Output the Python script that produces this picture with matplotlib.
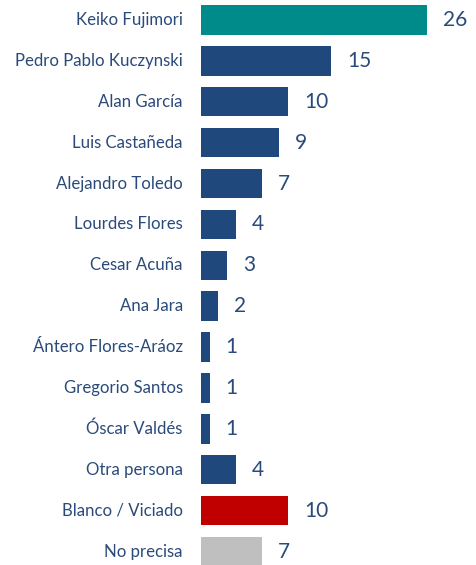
import matplotlib.pyplot as plt

# data
names = ["Keiko Fujimori", "Pedro Pablo Kuczynski", "Alan García", "Luis Castañeda",
         "Alejandro Toledo", "Lourdes Flores", "Cesar Acuña", "Ana Jara",
         "Ántero Flores-Aráoz", "Gregorio Santos", "Óscar Valdés", "Otra persona",
         "Blanco / Viciado", "No precisa"]
values = [26, 15, 10, 9, 7, 4, 3, 2, 1, 1, 1, 4, 10, 7]

blue = "#1F497D"
colors = ["#008B8B"] + [blue] * 11 + ["#C00000", "#BFBFBF"]
text_color = "#2A4A7A"

plt.rcParams['font.family'] = ['Lato', 'DejaVu Sans']

fig = plt.figure(figsize=(4.76, 5.65), dpi=100)
ax = fig.add_axes([201 / 476, 0, 1 - 201 / 476, 1])

rows = list(range(len(names)))
ax.barh(rows, values, height=0.72, color=colors)

for y, v in zip(rows, values):
    ax.text(v + 1.85, y, str(v), va="center", ha="left", fontsize=15, color=text_color)
    ax.text(-2.1, y, names[y], va="center", ha="right", fontsize=12.1, color=text_color)

ax.set_xlim(0, 275 / 8.68)
ax.set_ylim(13 + 13.5 / 40.9, -20 / 40.9)
ax.axis("off")

fig.savefig("out.png", dpi=100)
